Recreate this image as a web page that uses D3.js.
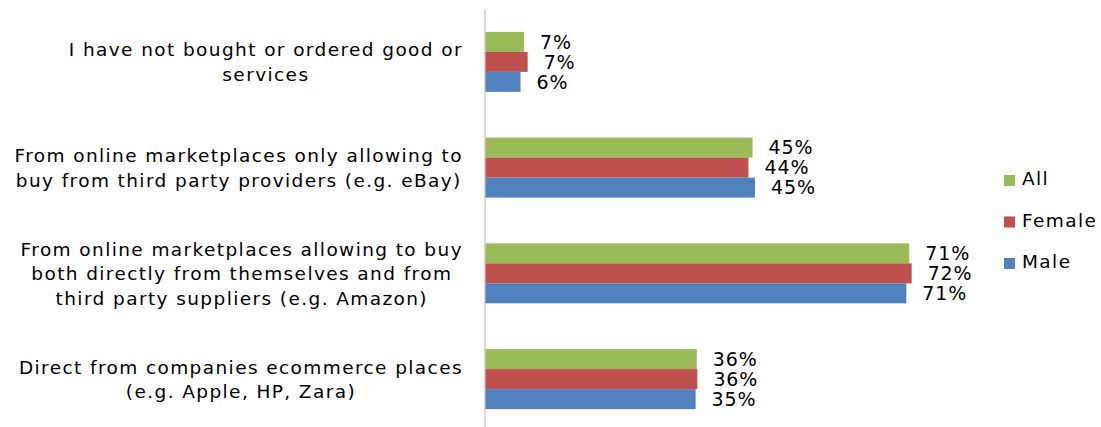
<!DOCTYPE html>
<html>
<head>
<meta charset="utf-8">
<script src="https://cdn.jsdelivr.net/npm/d3@7"></script>
<style>
  body { margin: 0; background: #fff; }
  text { font-family: "DejaVu Sans", Verdana, sans-serif; fill: #000; }
</style>
</head>
<body>
<div id="chart"></div>
<script>
// categories, top to bottom
const categories = [
  ["I have not bought or ordered good or", "services"],
  ["From online marketplaces only allowing to", "buy from third party providers (e.g. eBay)"],
  ["From online marketplaces allowing to buy", "both directly from themselves and from", "third party suppliers (e.g. Amazon)"],
  ["Direct from companies ecommerce places", "(e.g. Apple, HP, Zara)"]
];
const seriesNames = ["All", "Female", "Male"];
const seriesColors = ["#9BBB59", "#C0504D", "#4F81BD"];
// percent values per series, same order as categories
const allValues = [6.5, 45.0, 71.4, 35.6];
const femaleValues = [7.1, 44.3, 71.8, 35.7];
const maleValues = [5.9, 45.4, 70.9, 35.4];
const seriesValues = [allValues, femaleValues, maleValues];

const width = 1101, height = 427;
const svg = d3.select("#chart").append("svg")
  .attr("width", width).attr("height", height);

const x = d3.scaleLinear().domain([0, 100]).range([485.5, 1079]);
const y0 = d3.scaleBand().domain(d3.range(categories.length)).range([9, 432]);
const y1 = d3.scaleBand().domain(seriesNames)
  .range([(y0.bandwidth() - 60) / 2, (y0.bandwidth() + 60) / 2]);

// axis line
svg.append("line")
  .attr("x1", 485).attr("x2", 485)
  .attr("y1", 9).attr("y2", height)
  .attr("stroke", "#d9d9d9").attr("stroke-width", 2);

const groups = svg.selectAll("g.cat")
  .data(categories)
  .enter().append("g")
  .attr("class", "cat")
  .attr("transform", (d, i) => `translate(0,${y0(i)})`);

groups.each(function(lines, i) {
  const g = d3.select(this);
  seriesNames.forEach((s, k) => {
    const v = seriesValues[k][i];
    g.append("rect")
      .attr("x", x(0))
      .attr("y", y1(s))
      .attr("width", x(v) - x(0))
      .attr("height", y1.bandwidth())
      .attr("fill", seriesColors[k]);
    g.append("text")
      .attr("x", x(v) + 16)
      .attr("y", y1(s) + y1.bandwidth() / 2)
      .attr("dy", "0.36em")
      .style("font-size", "19px")
      .style("letter-spacing", "0.9px")
      .text(Math.round(v) + "%");
  });

  // category label: block right aligned, lines centered inside it
  const lineH = 24.5;
  const label = g.append("text")
    .style("font-size", "18.5px")
    .style("letter-spacing", "1.4px");
  const tspans = lines.map((t, j) => label.append("tspan")
    .attr("y", y0.bandwidth() / 2 + (j - (lines.length - 1) / 2) * lineH)
    .attr("dy", "0.36em")
    .text(t));
  const w = d3.max(tspans, t => t.node().getComputedTextLength());
  tspans.forEach(t => t.attr("x", 463 - w / 2).attr("text-anchor", "middle"));
});

// legend
const legend = svg.selectAll("g.legend")
  .data(seriesNames)
  .enter().append("g")
  .attr("class", "legend")
  .attr("transform", (d, i) => `translate(1004,${185 + i * 41.5})`);
legend.append("rect")
  .attr("x", 0).attr("y", -10).attr("width", 11).attr("height", 11)
  .attr("fill", (d, i) => seriesColors[i]);
legend.append("text")
  .attr("x", 18).attr("y", 0)
  .style("font-size", "18.5px")
  .style("letter-spacing", "1.4px")
  .text(d => d);
</script>
</body>
</html>
